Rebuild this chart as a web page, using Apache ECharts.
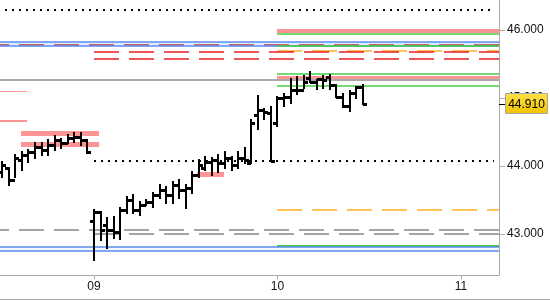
<!DOCTYPE html>
<html><head><meta charset="utf-8">
<script src="https://cdn.jsdelivr.net/npm/echarts@6/dist/echarts.min.js"></script>
<style>html,body{margin:0;padding:0;background:#fff}#c{width:550px;height:300px}</style>
</head><body><div id="c"></div>
<script>
// ---- data ----
const barsPerDay = 28;
const barDay  = [8,8,8,8,8,8,8,8,8,8,8,8,8,8,
  9,9,9,9,9,9,9,9,9,9,9,9,9,9,9,9,9,9,9,9,9,9,9,9,9,9,9,9,
  10,10,10,10,10,10,10,10,10,10,10,10,10,10];
const barSlot = [14,15,16,17,18,19,20,21,22,23,24,25,26,27,
  0,1,2,3,4,5,6,7,8,9,10,11,12,13,14,15,16,17,18,19,20,21,22,23,24,25,26,27,
  0,1,2,3,4,5,6,7,8,9,10,11,12,13];
const opens  = [43.91,43.97,43.79,44.09,44.16,44.21,44.28,44.24,44.31,44.38,44.34,44.41,44.43,44.38,
  43.19,43.32,43.13,43.06,43.03,43.35,43.50,43.35,43.43,43.47,43.57,43.65,43.57,43.72,43.65,43.68,43.87,43.97,44.06,44.09,44.04,44.12,44.01,44.12,44.04,44.75,44.82,44.78,
  44.63,45.00,45.01,45.12,45.12,45.29,45.24,45.28,45.31,45.19,45.01,44.88,45.07,45.16];
const highs  = [44.06,43.97,44.16,44.21,44.24,44.34,44.34,44.38,44.44,44.40,44.46,44.49,44.49,44.38,
  43.35,43.32,43.24,43.25,43.38,43.54,43.57,43.47,43.50,43.60,43.72,43.69,43.76,43.79,43.72,43.91,44.09,44.13,44.12,44.16,44.21,44.13,44.21,44.26,44.68,45.03,44.84,44.87,
  45.01,45.06,45.28,45.31,45.32,45.38,45.26,45.32,45.34,45.19,45.06,45.10,45.16,45.19];
const lows   = [43.84,43.72,43.84,43.94,44.06,44.12,44.16,44.16,44.24,44.26,44.34,44.35,44.31,44.19,
  42.62,42.91,42.79,42.94,42.93,43.31,43.31,43.28,43.43,43.40,43.53,43.46,43.46,43.53,43.38,43.60,43.84,43.94,43.87,43.91,43.97,43.94,43.97,44.04,44.04,44.54,44.69,44.07,
  44.59,44.88,44.93,45.06,45.15,45.24,45.13,45.15,45.13,45.01,44.87,44.81,45.00,44.91];
const closes = [44.01,43.79,44.12,44.16,44.21,44.28,44.24,44.31,44.38,44.34,44.41,44.43,44.38,44.21,
  43.32,43.06,43.06,43.03,43.35,43.50,43.35,43.43,43.47,43.57,43.65,43.57,43.72,43.65,43.68,43.87,44.01,44.06,44.09,44.04,44.12,44.01,44.12,44.09,44.63,44.82,44.79,44.07,
  45.00,45.01,45.12,45.12,45.24,45.24,45.28,45.26,45.19,45.01,44.88,45.07,45.16,44.91];

// horizontal levels: price, from-day, to-day
const levelPrice = [46.29, 45.98, 45.94, 45.82, 45.78, 45.76, 45.76, 45.69, 45.68, 45.57, 45.35, 45.29, 45.26, 45.18, 45.10, 44.66, 44.49, 44.33, 44.07, 43.88, 43.35, 43.06, 43.00, 42.82, 42.81, 42.75];
const levelFrom  = [8.40, 10.0, 10.0, 8.40, 8.40, 8.40, 10.0, 10.0, 9.0, 9.0, 10.0, 10.0, 8.40, 10.0, 8.40, 8.40, 8.60, 8.60, 9.0, 9.56, 10.0, 8.40, 9.0, 10.0, 8.40, 8.40];
const levelTo    = [11.18, 11.3, 11.3, 11.3, 11.3, 11.3, 11.3, 11.3, 11.3, 11.3, 11.3, 11.3, 11.3, 11.3, 8.635, 8.635, 9.03, 9.03, 11.18, 9.71, 11.3, 11.3, 11.3, 11.3, 11.3, 11.3];
const levelKind  = ['dot','pinkBand','green','blue','redDashDark','blue','green','orangeDash','redDash','redDash','green','pinkBand','gray','green','pinkThin','pink','pinkBand5','pinkBand5','dot','pinkBand5','orangeDash','grayDash','grayDash','green2','blue','blue'];
const bandLow  = [45.76, 42.75];
const bandHigh = [45.82, 42.81];

const xTicks = [9, 10, 11];
const xTickLabels = ['09', '10', '11'];
const yTicks = [43, 44, 45, 46];
const lastPrice = 44.91;

// ---- styles ----
const kindStyle = {
  dot:        {stroke:'#000', lineWidth:2, lineDash:[2,5]},
  pinkBand:   {stroke:'#ff9494', lineWidth:4},
  pinkBand5:  {stroke:'#ff9494', lineWidth:5},
  pinkThin:   {stroke:'#ff9494', lineWidth:1},
  pink:       {stroke:'#ff9494', lineWidth:2},
  green:      {stroke:'#44cc44', lineWidth:1.5},
  green2:     {stroke:'#44cc44', lineWidth:2},
  blue:       {stroke:'#5b8def', lineWidth:1.5},
  redDashDark:{stroke:'#c0392b', lineWidth:1.5, lineDash:[25,10]},
  redDash:    {stroke:'#e82020', lineWidth:1.5, lineDash:[25,10]},
  orangeDash: {stroke:'#ffb020', lineWidth:1.5, lineDash:[25,10]},
  gray:       {stroke:'#aaaaaa', lineWidth:2},
  grayDash:   {stroke:'#888888', lineWidth:1.5, lineDash:[25,10]}
};

const chart = echarts.init(document.getElementById('c'), null, {renderer:'canvas'});
const barData = barDay.map((d,i)=>[d + barSlot[i]/barsPerDay, opens[i], highs[i], lows[i], closes[i]]);
const levelData = levelPrice.map((p,i)=>[levelFrom[i], levelTo[i], p, i]);
const bandData = bandLow.map((l,i)=>[l, bandHigh[i]]);

function snap(v){ return Math.round(v) + 0.5; }

chart.setOption({
  animation:false,
  grid:{left:0, right:51, top:0, bottom:25},
  xAxis:{type:'value', min:8.488, max:11.207,
    axisLine:{show:true, lineStyle:{color:'#aaaaaa', width:1}},
    splitLine:{show:false},
    axisTick:{show:true, length:4, lineStyle:{color:'#aaaaaa'}, customValues:xTicks},
    axisLabel:{show:true, margin:6, color:'#111', fontSize:12, fontFamily:'Liberation Sans, Arial, sans-serif',
      customValues:xTicks, formatter:(v)=>xTickLabels[xTicks.indexOf(Math.round(v))] || ''}
  },
  yAxis:{type:'value', position:'right', min:42.397, max:46.441,
    axisLine:{show:true, lineStyle:{color:'#aaaaaa', width:1}},
    splitLine:{show:false},
    axisTick:{show:true, length:6, lineStyle:{color:'#aaaaaa'}, customValues:yTicks},
    axisLabel:{show:true, margin:8, color:'#111', fontSize:12, fontFamily:'Liberation Sans, Arial, sans-serif',
      customValues:yTicks, formatter:(v)=>v.toFixed(3)}
  },
  series:[
    {type:'custom', clip:true, data:bandData, z:1,
      renderItem:(params, api)=>{
        const cs = params.coordSys;
        const y1 = api.coord([cs.x, api.value(1)])[1];
        const y0 = api.coord([cs.x, api.value(0)])[1];
        return {type:'rect', shape:{x:cs.x, y:y1, width:cs.width, height:y0-y1}, style:{fill: params.dataIndex===0 ? '#dcebff' : '#f3f7ff'}};
      }},
    {type:'custom', clip:true, data:levelData, z:2,
      renderItem:(params, api)=>{
        const a = api.coord([api.value(0), api.value(2)]);
        const b = api.coord([api.value(1), api.value(2)]);
        const st = kindStyle[levelKind[api.value(3)]];
        const y = st.lineWidth % 2 === 1 ? snap(a[1]) : Math.round(a[1]);
        return {type:'line', shape:{x1:Math.round(a[0]), y1:y, x2:Math.round(b[0]), y2:y}, style:Object.assign({fill:null}, st)};
      }},
    {type:'custom', clip:true, data:barData, z:5,
      renderItem:(params, api)=>{
        const x = Math.round(api.coord([api.value(0), 0])[0]);
        const o = Math.round(api.coord([0, api.value(1)])[1]) + 0.5;
        const h = Math.round(api.coord([0, api.value(2)])[1]);
        const l = Math.round(api.coord([0, api.value(3)])[1]);
        const c = Math.round(api.coord([0, api.value(4)])[1]) + 0.5;
        return {type:'group', children:[
          {type:'line', shape:{x1:x, y1:h-1, x2:x, y2:l+1}, style:{stroke:'#000', lineWidth:2}},
          {type:'line', shape:{x1:x-4, y1:o, x2:x, y2:o}, style:{stroke:'#000', lineWidth:3}},
          {type:'line', shape:{x1:x, y1:c, x2:x+4, y2:c}, style:{stroke:'#000', lineWidth:3}}
        ]};
      }}
  ]
});

// last price tag
const ty = Math.round(chart.convertToPixel({yAxisIndex:0}, lastPrice));
chart.setOption({graphic:[
  {type:'line', shape:{x1:499, y1:ty+0.5, x2:505, y2:ty+0.5}, style:{stroke:'#000', lineWidth:1}, z:100},
  {type:'rect', shape:{x:505.5, y:ty-10.5, width:42, height:20},
    style:{fill:new echarts.graphic.LinearGradient(0,0,0,1,[{offset:0,color:'#ffe14a'},{offset:1,color:'#f2c200'}]), stroke:'#a8a8a8', lineWidth:1}, z:100},
  {type:'text', x:526.5, y:ty+0.5, style:{text:lastPrice.toFixed(3), fill:'#000', font:'12px Liberation Sans, Arial, sans-serif', align:'center', verticalAlign:'middle'}, z:101},
  {type:'line', shape:{x1:0, y1:299.5, x2:550, y2:299.5}, style:{stroke:'#aaaaaa', lineWidth:1}}
]});
</script></body></html>
